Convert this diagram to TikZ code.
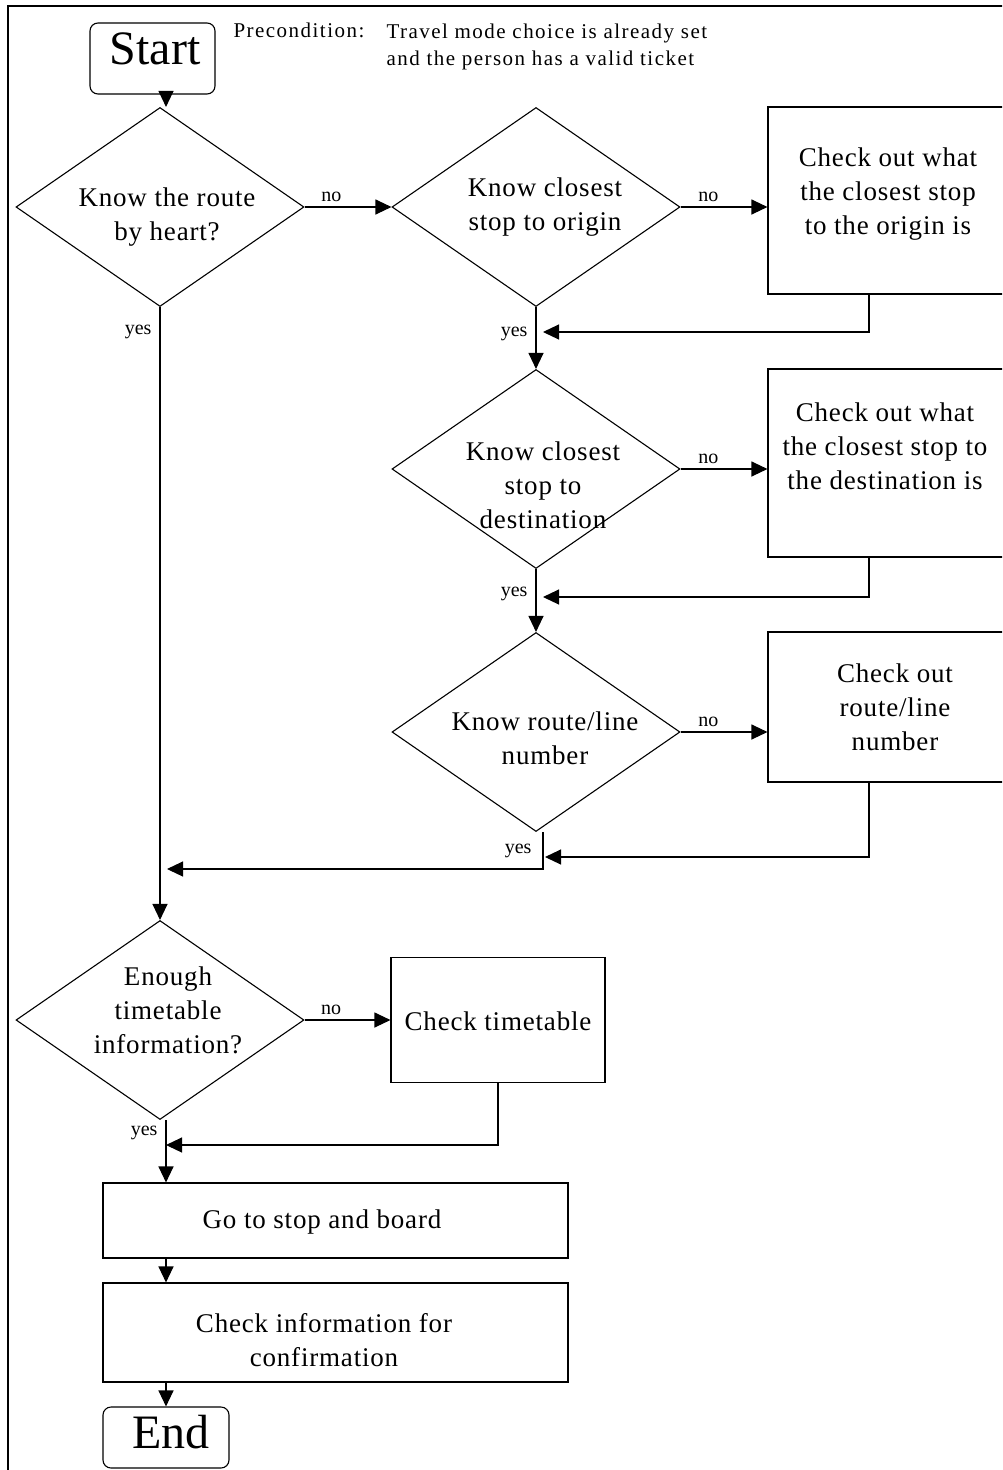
\documentclass[tikz,border=0pt]{standalone}
\usepackage{fontspec}
\setmainfont{Liberation Serif}
\newfontfamily\wideserif[LetterSpace=3]{Liberation Serif}
\newfontfamily\widerserif[LetterSpace=7]{Liberation Serif}
\usetikzlibrary{shapes.geometric,arrows.meta}

\newcommand{\boxfont}{\wideserif\fontsize{27}{34}\selectfont}
\newcommand{\lblfont}{\fontsize{20}{24}\selectfont}
\newcommand{\termfont}{\fontsize{48}{56}\selectfont}
\newcommand{\notefont}{\widerserif\fontsize{21}{27.5}\selectfont}

\begin{document}
\begin{tikzpicture}[x=1pt,y=-1pt,line width=1.1pt,
  decision/.style={draw, diamond, aspect=1.45, minimum width=288pt, minimum height=199pt, inner sep=0pt},
  block/.style={draw, inner sep=0pt},
  term/.style={draw, rounded corners=8pt, inner sep=0pt},
  txt/.style={align=center, font=\boxfont, inner sep=0pt},
  lbl/.style={font=\lblfont, inner sep=3pt},
  arr/.style={-{Triangle[length=16pt,width=15pt]}}]
\clip (0,0) rectangle (1002,1470);
\fill[white] (0,0) rectangle (1002,1470);
\draw[line width=2pt] (1010,6) -- (8,6) -- (8,1480);

% start and precondition
\node[term, minimum width=125pt, minimum height=71pt] (start) at (152.5,58.5) {};
\node[font=\termfont, inner sep=0pt] (start-t) at (155,48.5) {Start};
\node[anchor=base west, font=\notefont, inner sep=0pt] (pre) at (233,37.5) {Precondition:};
\node[anchor=north west, font=\notefont, inner sep=0pt, align=left] (cond) at (386,23) {Travel mode choice is already set\\and the person has a valid ticket};

% questions on the right column
\node[decision] (heart) at (160,207) {};
\node[txt] (heart-t) at (167,217) {Know the route\\by heart?};
\node[decision] (origin) at (536,207) {};
\node[txt] (origin-t) at (545,207) {Know closest\\stop to origin};
\node[block, minimum width=244pt, minimum height=187pt] (chkorigin) at (890,200.5) {};
\node[txt] (chkorigin-t) at (888,194) {Check out what\\the closest stop\\to the origin is};
\node[decision] (dest) at (536,469) {};
\node[txt] (dest-t) at (543,485) {Know closest\\stop to\\destination};
\node[block, minimum width=244pt, minimum height=188pt] (chkdest) at (890,463) {};
\node[txt] (chkdest-t) at (885,446) {Check out what\\the closest stop to\\the destination is};
\node[decision] (routeno) at (536,732) {};
\node[txt] (routeno-t) at (545,738) {Know route/line\\number};
\node[block, minimum width=244pt, minimum height=150pt] (chkroute) at (890,707) {};
\node[txt] (chkroute-t) at (895,707) {Check out\\route/line\\number};

% timetable and boarding
\node[decision] (enough) at (160,1020) {};
\node[txt] (enough-t) at (168,1010) {Enough\\timetable\\information?};
\node[block, minimum width=214pt, minimum height=125pt] (chktime) at (498,1020) {};
\node[txt] (chktime-t) at (498,1021) {Check timetable};
\node[block, minimum width=465pt, minimum height=75pt] (board) at (335.5,1220.5) {};
\node[txt] (board-t) at (322,1222) {Go to stop and board};
\node[block, minimum width=465pt, minimum height=99pt] (confirm) at (335.5,1332.5) {};
\node[txt] (confirm-t) at (324,1340) {Check information for\\confirmation};
\node[term, minimum width=126pt, minimum height=61pt] (finish) at (166,1437.5) {};
\node[font=\termfont, inner sep=0pt] (finish-t) at (171,1432.5) {End};

\coordinate (j1) at (543,332);
\coordinate (j2) at (543,597);
\coordinate (j3) at (545,857);
\coordinate (j4) at (167,869);
\coordinate (j5) at (166,1145);

\draw[arr] ([xshift=13.5pt]start.south) -- ([xshift=6pt]heart.north);
\draw[arr] (heart.east) -- node[lbl, pos=0.31, above=2pt] (no1) {no} (origin.west);
\draw[arr] (origin.east) -- node[lbl, pos=0.32, above=2pt] (no2) {no} (origin.east -| chkorigin.west);
\draw[arr] (origin.south) -- node[lbl, pos=0.43, left=5pt] (yes1) {yes} (dest.north);
\draw[arr] ([xshift=-21pt]chkorigin.south) |- (j1);
\draw[arr] (dest.east) -- node[lbl, pos=0.32, above=2pt] (no3) {no} (dest.east -| chkdest.west);
\draw[arr] ([xshift=-21pt]chkdest.south) |- (j2);
\draw[arr] (dest.south) -- node[lbl, pos=0.4, left=5pt] (yes2) {yes} (routeno.north);
\draw[arr] (routeno.east) -- node[lbl, pos=0.32, above=2pt] (no4) {no} (routeno.east -| chkroute.west);
\draw[arr] ([xshift=-21pt]chkroute.south) |- (j3);
\draw[arr] ([xshift=7pt]routeno.south) |- node[lbl, pos=0.25, left=8pt] (yes3) {yes} (j4);
\draw[arr] (heart.south) -- node[lbl, pos=0.04, left=5pt] (yes4) {yes} (enough.north);
\draw[arr] (enough.east) -- node[lbl, pos=0.31, above=2pt] (no5) {no} (chktime.west);
\draw[arr] (chktime.south) |- (j5);
\draw[arr] (j5 |- enough.south) -- node[lbl, pos=0.2, left=5pt] (yes5) {yes} (j5 |- board.north);
\draw[arr] (j5 |- board.south) -- (j5 |- confirm.north);
\draw[arr] (j5 |- confirm.south) -- (finish.north);
\end{tikzpicture}
\end{document}
